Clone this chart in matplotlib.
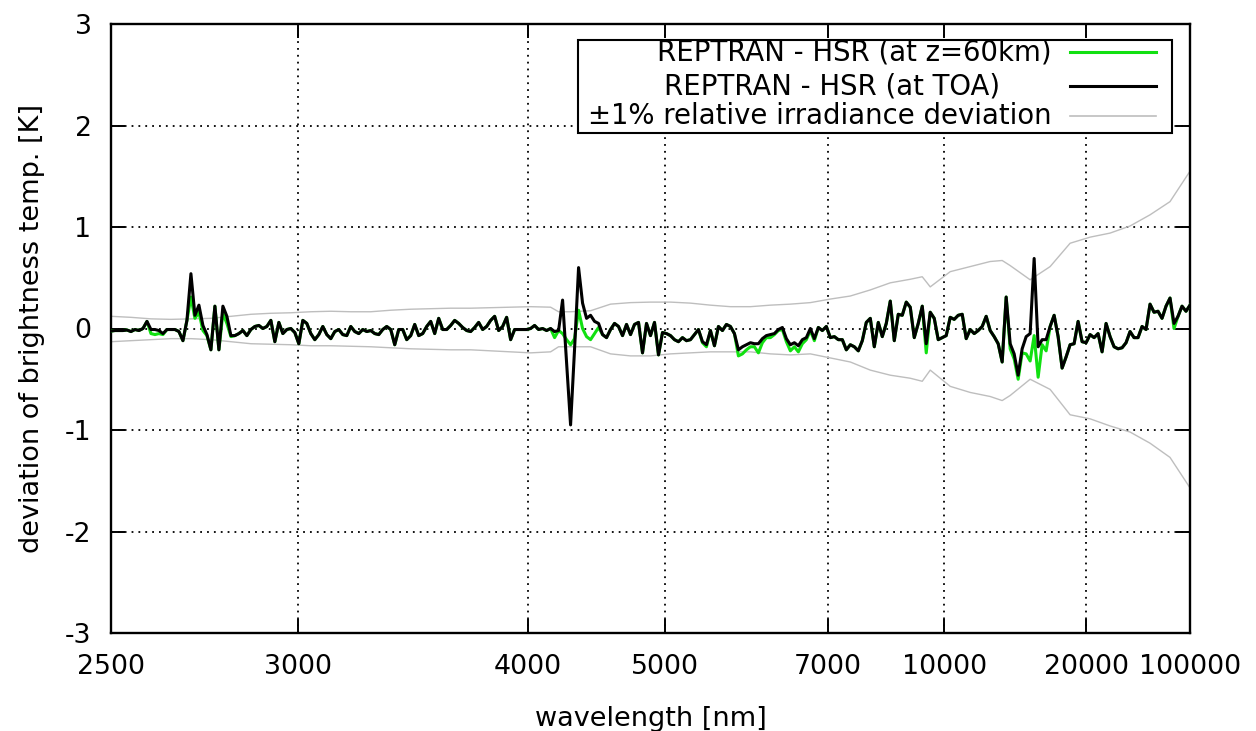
import matplotlib
matplotlib.use("Agg")
import matplotlib.pyplot as plt
from matplotlib.patches import Rectangle

plt.rcParams['font.family'] = ['DejaVu Sans']
plt.rcParams['font.size'] = 19.5

# Band index along the spectral axis
n_bands = 271
band = list(range(n_bands))

# Tick positions (band index) and their wavelength labels [nm]
tick_band = [0, 46.9, 104.4, 138.6, 179.4, 208.5, 244.0, 270]
tick_wavelength = [2500, 3000, 4000, 5000, 7000, 10000, 20000, 100000]

# REPTRAN - HSR at top of atmosphere [K]
dev_toa = [
    -0.025, -0.02, -0.02, -0.02, -0.015, -0.03, -0.01, -0.02, 0.0, 0.07,
    -0.01, -0.01, -0.02, -0.05, -0.01, -0.01, -0.01, -0.03, -0.12, 0.08,
    0.54, 0.13, 0.23, 0.03, -0.06, -0.21, 0.22, -0.21, 0.22, 0.12,
    -0.07, -0.07, -0.05, -0.02, -0.07, -0.01, 0.02, 0.03, 0.0, 0.02,
    0.08, -0.13, 0.06, -0.05, -0.01, 0.0, -0.04, -0.15, 0.08, 0.05,
    -0.05, -0.11, -0.06, 0.02, -0.06, -0.10, -0.03, -0.01, -0.06, -0.07,
    0.02, -0.03, -0.05, -0.01, -0.03, -0.02, -0.05, -0.06, -0.01, 0.02,
    -0.01, -0.16, -0.01, -0.01, -0.11, -0.07, 0.04, -0.07, -0.05, 0.02,
    0.07, -0.05, 0.10, -0.01, -0.01, 0.03, 0.08, 0.05, 0.01, -0.02,
    -0.03, 0.01, 0.06, -0.01, 0.02, 0.08, 0.12, -0.02, 0.02, 0.11,
    -0.11, -0.01, -0.01, -0.01, -0.01, 0.0, 0.03, -0.01, 0.0, -0.02,
    0.0, -0.03, -0.02, 0.28, -0.33, -0.95, -0.2, 0.6, 0.25, 0.10,
    0.13, 0.07, 0.05, -0.06, -0.09, -0.01, 0.05, 0.02, -0.07, 0.04,
    -0.06, 0.04, 0.06, -0.24, 0.05, -0.07, 0.06, -0.26, -0.04, -0.05,
    -0.07, -0.11, -0.13, -0.09, -0.12, -0.11, -0.06, -0.01, -0.13, -0.16,
    -0.02, -0.17, 0.02, -0.02, 0.04, 0.02, -0.05, -0.21, -0.18, -0.16,
    -0.14, -0.15, -0.15, -0.10, -0.07, -0.06, -0.05, -0.01, 0.01, -0.10,
    -0.16, -0.14, -0.17, -0.11, -0.09, 0.0, -0.10, 0.01, -0.02, 0.02,
    -0.09, -0.08, -0.11, -0.11, -0.21, -0.16, -0.18, -0.22, -0.12, 0.06,
    0.10, -0.18, 0.06, -0.08, 0.05, 0.27, -0.12, 0.14, 0.13, 0.26,
    0.21, -0.09, 0.05, 0.22, -0.15, 0.16, 0.10, -0.11, -0.09, -0.07,
    0.11, 0.09, 0.13, 0.14, -0.10, -0.01, -0.05, -0.02, 0.02, 0.12,
    -0.02, -0.08, -0.15, -0.33, 0.31, -0.15, -0.25, -0.46, -0.20, -0.08,
    -0.05, 0.69, -0.18, -0.11, -0.11, 0.02, 0.13, -0.08, -0.39, -0.28,
    -0.16, -0.15, 0.07, -0.13, -0.14, -0.06, -0.09, -0.05, -0.23, 0.05,
    -0.08, -0.18, -0.20, -0.19, -0.14, -0.03, -0.09, -0.09, 0.02, -0.01,
    0.24, 0.16, 0.17, 0.10, 0.22, 0.30, 0.05, 0.12, 0.22, 0.17,
    0.23,
]

# REPTRAN - HSR at z=60km [K]
dev_60km = [
    -0.025, -0.02, -0.02, -0.02, -0.015, -0.03, -0.01, -0.02, 0.0, 0.07,
    -0.05, -0.06, -0.05, -0.06, -0.01, -0.01, -0.01, -0.03, -0.12, 0.08,
    0.31, 0.10, 0.16, -0.02, -0.07, -0.21, 0.22, -0.21, 0.15, 0.05,
    -0.08, -0.07, -0.05, -0.02, -0.07, -0.01, 0.02, 0.03, 0.0, 0.02,
    0.08, -0.13, 0.06, -0.05, -0.01, 0.0, -0.04, -0.15, 0.08, 0.05,
    -0.05, -0.11, -0.06, 0.02, -0.06, -0.10, -0.03, -0.01, -0.06, -0.07,
    0.02, -0.03, -0.05, -0.01, -0.03, -0.02, -0.05, -0.06, -0.01, 0.02,
    -0.01, -0.16, -0.01, -0.01, -0.11, -0.07, 0.04, -0.07, -0.05, 0.02,
    0.07, -0.05, 0.10, -0.01, -0.01, 0.03, 0.08, 0.05, 0.01, -0.02,
    -0.03, 0.01, 0.06, -0.01, 0.02, 0.08, 0.12, -0.02, 0.02, 0.11,
    -0.11, -0.01, -0.01, -0.01, -0.01, 0.0, 0.03, -0.01, 0.0, -0.02,
    0.0, -0.09, -0.02, -0.05, -0.11, -0.16, -0.10, 0.18, 0.0, -0.08,
    -0.11, -0.05, 0.01, -0.06, -0.09, -0.01, 0.05, 0.02, -0.07, 0.04,
    -0.06, 0.04, 0.06, -0.24, 0.05, -0.07, 0.06, -0.26, -0.04, -0.05,
    -0.07, -0.11, -0.13, -0.09, -0.12, -0.11, -0.06, -0.01, -0.14, -0.18,
    -0.02, -0.17, 0.02, -0.02, 0.04, 0.02, -0.05, -0.27, -0.25, -0.21,
    -0.18, -0.18, -0.24, -0.14, -0.09, -0.09, -0.06, -0.02, -0.01, -0.13,
    -0.22, -0.18, -0.23, -0.15, -0.11, -0.02, -0.12, 0.01, -0.02, 0.02,
    -0.09, -0.08, -0.11, -0.11, -0.21, -0.16, -0.18, -0.22, -0.12, 0.06,
    0.10, -0.18, 0.06, -0.08, 0.05, 0.27, -0.12, 0.14, 0.13, 0.26,
    0.21, -0.09, 0.05, 0.22, -0.24, 0.16, 0.10, -0.11, -0.09, -0.07,
    0.11, 0.09, 0.13, 0.14, -0.10, -0.01, -0.05, -0.02, 0.02, 0.12,
    -0.02, -0.08, -0.15, -0.33, 0.31, -0.20, -0.30, -0.50, -0.24, -0.25,
    -0.32, -0.07, -0.48, -0.16, -0.22, 0.02, 0.13, -0.08, -0.39, -0.28,
    -0.16, -0.15, 0.07, -0.13, -0.14, -0.06, -0.09, -0.05, -0.23, 0.05,
    -0.08, -0.18, -0.20, -0.19, -0.14, -0.03, -0.09, -0.09, 0.02, -0.01,
    0.24, 0.16, 0.17, 0.10, 0.22, 0.30, 0.0, 0.12, 0.22, 0.17,
    0.23,
]

# Brightness-temperature equivalent of +/-1% irradiance [K]
env_band = [0, 5, 10, 15, 20, 25, 30, 35, 40, 45, 50, 55, 60, 65, 70, 75,
            80, 85, 90, 95, 100, 105, 110, 112, 115, 120, 125, 130, 135,
            140, 145, 150, 155, 160, 165, 170, 175, 180, 185, 190, 195,
            200, 203, 205, 210, 215, 220, 223, 225, 230, 235, 240, 245,
            250, 255, 260, 265, 270]
env_upper = [0.12, 0.11, 0.095, 0.09, 0.095, 0.10, 0.12, 0.14, 0.15, 0.155,
             0.165, 0.17, 0.165, 0.165, 0.18, 0.19, 0.195, 0.20, 0.20, 0.205,
             0.21, 0.215, 0.21, 0.165, 0.165, 0.175, 0.24, 0.255, 0.26, 0.26,
             0.25, 0.23, 0.215, 0.215, 0.23, 0.24, 0.255, 0.29, 0.32, 0.38,
             0.45, 0.485, 0.51, 0.41, 0.56, 0.61, 0.66, 0.67, 0.62, 0.48,
             0.61, 0.84, 0.90, 0.94, 1.01, 1.12, 1.25, 1.55]
env_lower = [-0.13, -0.12, -0.11, -0.10, -0.10, -0.11, -0.13, -0.15, -0.155,
             -0.16, -0.17, -0.17, -0.175, -0.18, -0.19, -0.20, -0.205, -0.21,
             -0.21, -0.22, -0.23, -0.24, -0.23, -0.18, -0.18, -0.18, -0.25,
             -0.27, -0.27, -0.25, -0.24, -0.23, -0.23, -0.23, -0.25, -0.26,
             -0.25, -0.29, -0.33, -0.41, -0.46, -0.49, -0.52, -0.41, -0.57,
             -0.63, -0.67, -0.71, -0.66, -0.50, -0.60, -0.85, -0.89, -0.96,
             -1.02, -1.13, -1.27, -1.57]

labels = ["REPTRAN - HSR (at z=60km)",
          "REPTRAN - HSR (at TOA)",
          "\u00b11% relative irradiance deviation"]
colors = ["#11e011", "#000000", "#bebebe"]
widths = [2.2, 2.2, 1.0]

fig = plt.figure(figsize=(12.56, 7.31), dpi=100)
ax = fig.add_axes([111 / 1256, 1 - 633 / 731, 1079 / 1256, 609 / 731])

ax.plot(env_band, env_upper, color=colors[2], lw=widths[2], zorder=2)
ax.plot(env_band, env_lower, color=colors[2], lw=widths[2], zorder=2)
ax.plot(band, dev_60km, color=colors[0], lw=widths[0], zorder=3)
ax.plot(band, dev_toa, color=colors[1], lw=widths[1], zorder=4)

ax.set_xlim(0, 270)
ax.set_ylim(-3, 3)
ax.set_xticks(tick_band)
ax.set_xticklabels([str(w) for w in tick_wavelength])
ax.set_yticks([-3, -2, -1, 0, 1, 2, 3])
ax.set_yticklabels(["-3", "-2", "-1", "0", "1", "2", "3"])

ax.tick_params(direction="in", length=10, width=1.4, top=True, right=True,
               labelsize=19.3)
ax.tick_params(axis="x", pad=15)
ax.tick_params(axis="y", pad=14)
for s in ax.spines.values():
    s.set_linewidth(1.7)

grid_style = dict(color="black", lw=1.3, linestyle=(0, (1, 2.8)), zorder=1)
for xb in tick_band[1:-1]:
    ax.axvline(xb, **grid_style)
for yv in [-2, -1, 0, 1, 2]:
    ax.axhline(yv, **grid_style)

ax.set_xlabel("wavelength [nm]", labelpad=19)
ax.set_ylabel("deviation of brightness temp. [K]", labelpad=14)

# Key box with labels and line samples
box = Rectangle((0.4328, 0.821), 0.5505, 0.1527, transform=ax.transAxes,
                facecolor="white", edgecolor="black", lw=1.5, zorder=6)
ax.add_patch(box)
rows_y = [0.9535, 0.8980, 0.8485]
text_right = [0.8721, 0.8239, 0.8721]
for lab, col, lw_, yy, xr in zip(labels, colors, widths, rows_y, text_right):
    ax.text(xr, yy, lab, transform=ax.transAxes, ha="right",
            va="center", fontsize=19.8, zorder=7)
    ax.plot([0.8888, 0.9685], [yy, yy], transform=ax.transAxes, color=col,
            lw=lw_ if lw_ > 1.5 else 1.2, zorder=7, clip_on=False)

fig.savefig("out.png", dpi=100)
